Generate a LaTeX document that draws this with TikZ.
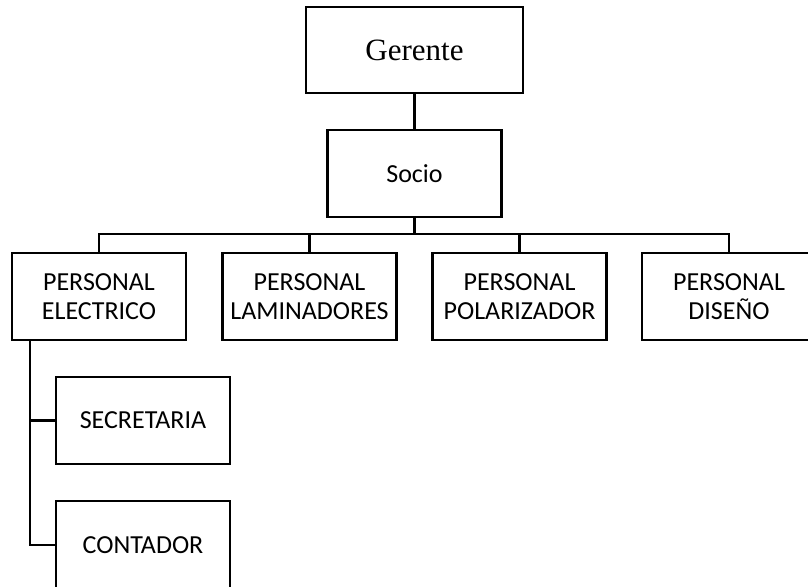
\documentclass[tikz,border=0pt]{standalone}
\usepackage{fontspec}
\setsansfont{Carlito}
\newfontfamily\timesfont{Liberation Serif}
\usepackage{tikz}
\newcommand{\orgfont}{\sffamily\fontsize{26}{29}\selectfont}
\newcommand{\jefefont}{\timesfont\fontsize{31}{36}\selectfont}

\begin{document}
\begin{tikzpicture}[x=1pt,y=-1pt]
	\useasboundingbox (0,0) rectangle (808,586);

	\begin{scope}[every node/.style={draw,rectangle,line width=2.5pt, inner sep=0pt, align=center, minimum width=174pt, minimum height=87pt, font=\orgfont}]
	    \node[minimum width=217pt, minimum height=86pt, font=\jefefont] (gerente) at (414.5,50) {Gerente};
	    \node (socio) at (414.5,173.5) {Socio};
	    \node (electrico) at (99,296.5) {PERSONAL\\ELECTRICO};
	    \node (laminadores) at (309.5,296.5) {PERSONAL\\LAMINADORES};
	    \node (polarizador) at (519.5,296.5) {PERSONAL\\POLARIZADOR};
	    \node (diseno) at (729,296.5) {PERSONAL\\DISEÑO};
	    \node (secretaria) at (143,420.5) {SECRETARIA};
	    \node[minimum height=88pt] (contador) at (143,545) {CONTADOR};
	\end{scope}

	\begin{scope}[line width=2.5pt]
	    \coordinate (bus) at (414.5,234);
	    \coordinate (trunk) at (30,340);
    	\draw (gerente) -- (socio);
    	\draw (socio) -- (bus);
    	\draw (bus) -| (electrico);
    	\draw (bus) -| (laminadores);
    	\draw (bus) -| (polarizador);
    	\draw (bus) -| (diseno);
    	\draw (trunk) |- (secretaria);
    	\draw (trunk) |- (contador);
	\end{scope}
\end{tikzpicture}
\end{document}
